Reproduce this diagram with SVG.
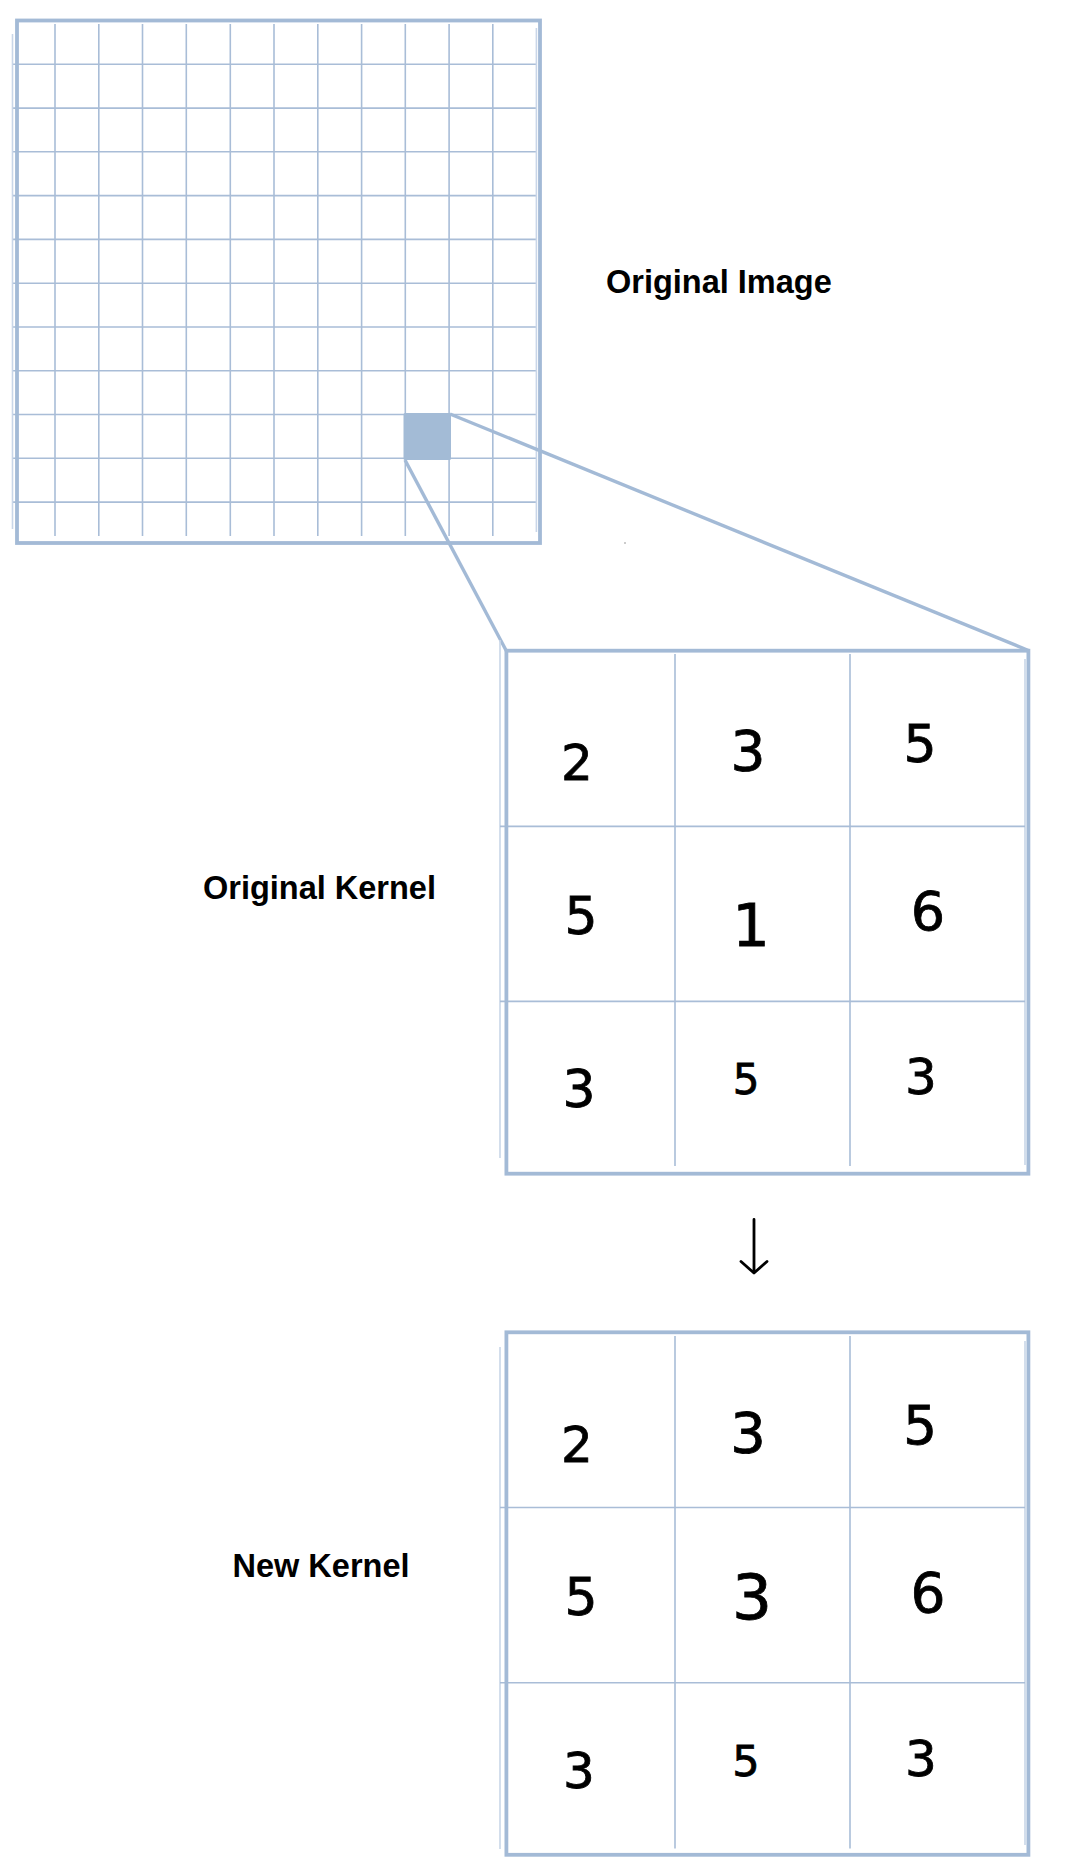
<svg xmlns="http://www.w3.org/2000/svg" width="1072" height="1863" viewBox="0 0 1072 1863">
  <style>
    .grid { stroke: #a9bdd7; stroke-width: 1.6; fill: none; }
    .faint { stroke: #c9d6e8; stroke-width: 1.6; fill: none; }
    .frame { stroke: #a3bad6; stroke-width: 3.8; fill: none; }
    .conn { stroke: #a3bad6; stroke-width: 3.4; fill: none; }
    .label { font-family: "Liberation Sans", Arial, Helvetica, sans-serif; font-weight: bold; font-size: 32.5px; fill: #000; }
    .num { font-family: "DejaVu Sans", "Liberation Sans", sans-serif; font-size: 50px; fill: #000; text-anchor: middle; stroke: #000; stroke-width: 0.8; }
  </style>
  <rect width="1072" height="1863" fill="#ffffff"/>

  <g id="original-image">
    <g class="grid">
      <path d="M55,24V536 M98.8,24V536 M142.5,24V536 M186.3,24V536 M230.3,24V536 M274,24V536 M317.8,24V536 M361.6,24V536 M405.3,24V536 M449.1,24V536 M492.8,24V536"/>
      <path d="M12.5,64.3H536 M12.5,108.1H536 M12.5,151.8H536 M12.5,195.6H536 M12.5,239.4H536 M12.5,283.2H536 M12.5,327H536 M12.5,370.8H536 M12.5,414.5H536 M12.5,458.3H536 M12.5,502.1H536"/>
    </g>
    <path class="faint" d="M12.5,34V529 M536.4,28V532"/>
    <rect class="frame" x="17" y="20.5" width="523" height="522.5"/>
    <rect x="403.5" y="413" width="47.5" height="47" rx="1.5" fill="#a3bbd6"/>
    <text class="label" x="606" y="293">Original Image</text>
  </g>

  <g id="connectors">
    <line class="conn" x1="450" y1="414" x2="1028.5" y2="650.5"/>
    <line class="conn" x1="405" y1="460" x2="506.4" y2="651"/>
    <line x1="625" y1="542" x2="625" y2="544" stroke="#999" stroke-width="1"/>
    <path d="M754,1219.5V1272.5 M741,1261.5L754,1273L767,1261.5" fill="none" stroke="#000" stroke-width="2.8" stroke-linecap="round" stroke-linejoin="round"/>
  </g>

  <g id="original-kernel">
    <path class="faint" d="M500,640V1158 M1025,659V1165"/>
    <path class="grid" d="M675,654V1166 M850,654V1166 M500,826.4H1025 M500,1001.4H1025"/>
    <rect class="frame" x="506.4" y="650.7" width="522" height="523"/>
    <text class="label" x="203" y="899">Original Kernel</text>
    <g class="num">
      <text x="577" y="780">2</text>
      <text x="748" y="770" font-size="55">3</text>
      <text x="920" y="762" font-size="52">5</text>
      <text x="581" y="934" font-size="52">5</text>
      <text x="751" y="946" font-size="59">1</text>
      <text x="928" y="930" font-size="54">6</text>
      <text x="579" y="1107" font-size="52">3</text>
      <text x="746" y="1094" font-size="42">5</text>
      <text x="921" y="1094">3</text>
    </g>
  </g>

  <g id="new-kernel">
    <path class="faint" d="M500,1347V1849 M1025,1341V1845"/>
    <path class="grid" d="M675,1336V1848.6 M850,1336V1848.6 M500,1507.5H1025 M500,1682.8H1025"/>
    <rect class="frame" x="506.4" y="1332.3" width="522" height="522.5"/>
    <text class="label" x="232.5" y="1577">New Kernel</text>
    <g class="num">
      <text x="577" y="1462">2</text>
      <text x="748" y="1452" font-size="56">3</text>
      <text x="920" y="1444" font-size="53">5</text>
      <text x="581" y="1615" font-size="52">5</text>
      <text x="752" y="1619" font-size="63">3</text>
      <text x="928" y="1612" font-size="55">6</text>
      <text x="579" y="1788">3</text>
      <text x="746" y="1776" font-size="43">5</text>
      <text x="921" y="1776">3</text>
    </g>
  </g>
</svg>
